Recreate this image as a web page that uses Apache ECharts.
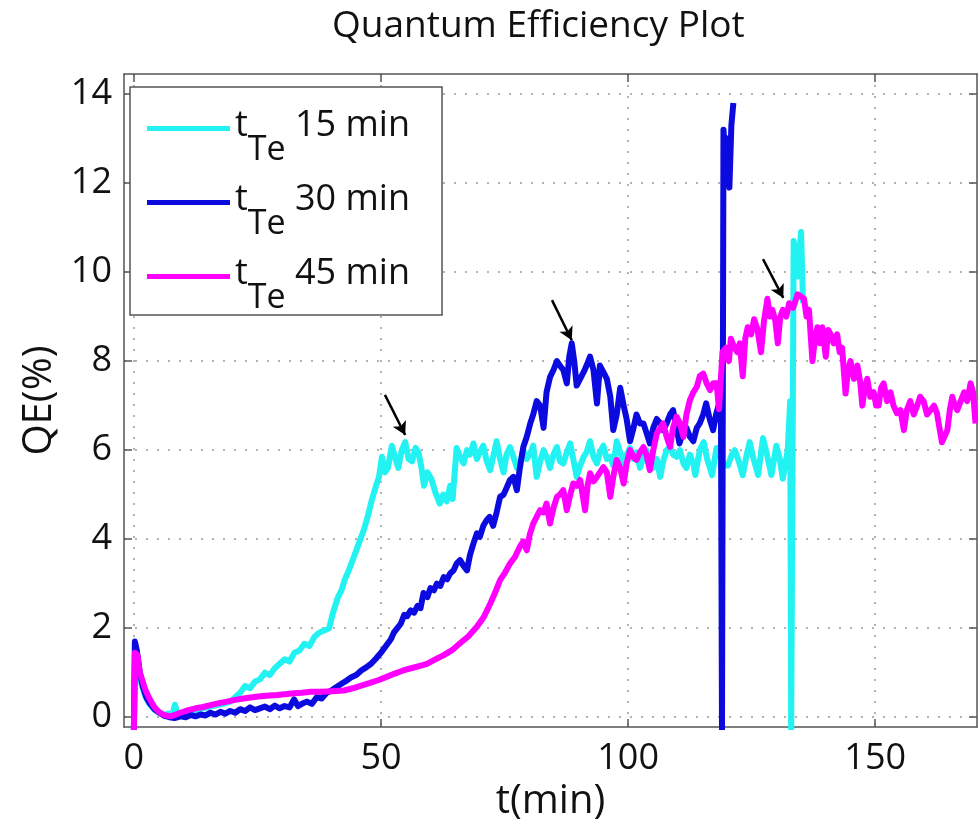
<!DOCTYPE html>
<html>
<head>
<meta charset="utf-8">
<script src="https://cdn.jsdelivr.net/npm/echarts@6/dist/echarts.min.js"></script>
<style>
  html, body { margin: 0; padding: 0; background: #fff; }
  #chart { width: 978px; height: 827px; }
</style>
</head>
<body>
<div id="chart"></div>
<script type="text/javascript">
  // axis ticks
  var xTicks = [0, 50, 100, 150];
  var yTicks = [0, 2, 4, 6, 8, 10, 12, 14];
  var names = ['15 min', '30 min', '45 min'];

  // [t (min), QE (%)]
  var cyanData = [[0,-0.3],[0.3,1.5],[0.8,1.2],[1.5,0.75],[2.2,0.5],[3,0.32],[4,0.18],[5,0.1],[6,0.05],[7,0.08],[7.8,0.05],[8.3,0.28],[8.8,0.08],[10,0.1],[12,0.15],[14,0.2],[16,0.25],[18,0.3],[19.5,0.35],[20.5,0.45],[21.5,0.55],[22.5,0.7],[23.5,0.65],[24.5,0.8],[25.5,0.85],[26.5,1.0],[27.5,0.95],[28.5,1.1],[29.5,1.2],[30.5,1.3],[31.5,1.25],[32.5,1.45],[33.5,1.5],[34.5,1.65],[35.5,1.6],[36.5,1.8],[37.5,1.9],[38.5,1.95],[39.5,2.0],[40.3,2.35],[41.3,2.7],[42,2.85],[42.7,3.1],[43.5,3.3],[44.5,3.6],[45.5,3.9],[46.5,4.2],[47.3,4.5],[48.2,4.9],[49,5.2],[49.6,5.4],[50.2,5.85],[50.8,5.5],[51.4,5.6],[52.2,6.1],[52.8,5.85],[53.5,5.6],[54.2,6.0],[54.9,6.18],[55.6,5.8],[56.3,5.75],[57,6.05],[57.6,5.95],[58.2,5.6],[58.7,5.2],[59.4,5.5],[60.2,5.35],[61,5.05],[61.9,4.8],[62.6,5.0],[63.3,4.85],[64,5.2],[64.5,4.9],[65.3,6.05],[66,5.85],[66.7,5.7],[67.4,6.0],[68,5.9],[68.7,6.15],[69.4,5.8],[70,5.95],[70.7,6.1],[71.4,5.75],[72.1,5.55],[72.8,5.9],[73.4,6.2],[74.1,5.8],[74.8,5.5],[75.4,5.9],[76.1,6.07],[76.8,5.85],[77.5,5.6],[78.1,5.7],[78.8,6.0],[79.5,5.8],[80.2,5.92],[80.8,6.1],[81.5,5.4],[82.2,5.75],[82.9,6.0],[83.5,5.85],[84.2,5.6],[84.9,5.9],[85.6,6.07],[86.2,5.75],[86.9,5.7],[87.6,5.95],[88.3,6.15],[88.9,5.8],[89.6,5.4],[90.3,5.65],[91,5.85],[91.6,5.95],[92.3,6.2],[93,5.85],[93.7,5.7],[94.3,5.95],[95,6.1],[95.7,5.8],[96.4,5.85],[97,5.65],[97.7,6.2],[98.4,5.95],[99.1,5.7],[99.7,5.9],[100.4,6.05],[101.1,5.8],[101.7,5.95],[102.4,5.6],[103.1,5.85],[103.7,6.0],[104.4,5.85],[105.1,5.6],[105.8,5.8],[106.5,5.4],[107.1,5.75],[107.8,6.0],[108.5,6.07],[109.1,5.9],[109.8,5.85],[110.5,6.0],[111.2,5.7],[111.8,5.6],[112.5,5.9],[113.2,5.7],[113.6,5.44],[114.5,6.0],[115.3,6.18],[116,5.8],[117,5.44],[117.9,6.05],[118.6,5.9],[119.3,5.7],[120.2,5.65],[121,5.9],[121.6,6.0],[122.4,5.75],[123.2,5.44],[124,5.9],[124.6,6.18],[125.4,5.8],[126.3,5.44],[127.3,6.27],[128.1,5.9],[129,5.44],[130,6.1],[130.7,5.8],[131.3,5.36],[132.3,6.0],[132.8,7.1],[133.0,-0.3],[133.5,10.7],[134.3,9.9],[135.0,10.9],[135.4,9.3]];

  var blueData = [[0,-0.3],[0.2,1.7],[0.6,1.5],[1.2,1.0],[1.8,0.7],[2.5,0.45],[3.3,0.3],[4.2,0.18],[5.2,0.1],[6.2,0.03],[7.2,0.0],[8.2,-0.02],[9.5,0.02],[10.5,0.0],[11.5,0.05],[12.5,0.02],[13.5,0.06],[14.5,0.04],[15.5,0.1],[16.5,0.06],[17.5,0.12],[18.5,0.08],[19.5,0.14],[20.5,0.1],[21.5,0.18],[22.5,0.14],[23.5,0.22],[24.5,0.16],[25.5,0.2],[26.5,0.24],[27.5,0.18],[28.5,0.26],[29.5,0.2],[30.5,0.25],[31.5,0.22],[32.4,0.4],[33.2,0.25],[34,0.3],[35,0.35],[36,0.3],[37,0.45],[38,0.42],[39,0.55],[40,0.6],[41,0.68],[42,0.75],[43,0.82],[44,0.9],[45,0.95],[46,1.05],[47,1.12],[48,1.2],[49,1.32],[50,1.45],[51,1.6],[52,1.75],[52.6,1.9],[53.3,2.0],[54,2.1],[54.7,2.3],[55.3,2.27],[56,2.4],[56.7,2.35],[57.4,2.5],[58,2.45],[58.6,2.79],[59.4,2.7],[60,2.9],[60.7,2.85],[61.3,3.0],[62,2.95],[62.7,3.15],[63.4,3.1],[64,3.23],[64.7,3.3],[65.3,3.45],[66,3.53],[66.7,3.4],[67.4,3.3],[68,3.64],[68.7,3.9],[69.4,4.13],[70,4.05],[70.7,4.3],[71.4,4.43],[72,4.5],[72.7,4.3],[73.4,4.6],[74.1,4.95],[74.8,5.0],[75.4,5.15],[76.1,5.33],[76.8,5.4],[77.5,5.1],[78.1,5.6],[78.8,6.07],[79.5,6.3],[80.2,6.6],[80.8,6.8],[81.5,7.1],[82.2,7.0],[82.9,6.5],[83.5,7.3],[84.2,7.64],[84.9,7.8],[85.6,8.0],[86.2,7.9],[86.9,7.8],[87.6,7.5],[88.1,8.1],[88.6,8.4],[89.1,8.0],[89.6,7.45],[90.3,7.6],[91,7.75],[91.6,7.9],[92.3,8.1],[93,7.8],[93.7,7.05],[94.3,7.9],[95,7.75],[95.7,7.6],[96.4,7.2],[97,6.45],[97.7,6.8],[98.4,7.4],[99.1,7.0],[99.7,6.7],[100.4,6.2],[101.1,6.5],[101.7,6.8],[102.4,6.6],[103.1,6.6],[103.7,6.4],[104.4,6.15],[105.1,6.5],[105.8,6.7],[106.5,6.6],[107.1,6.45],[107.8,6.6],[108.5,6.8],[109.1,6.9],[109.8,6.5],[110.4,6.15],[111.1,6.4],[111.8,6.5],[112.5,6.3],[113.2,6.2],[113.9,6.5],[114.5,6.6],[115.2,6.8],[115.8,7.05],[116.5,6.7],[117.2,6.45],[117.8,6.8],[118.3,7.0],[118.8,6.6],[119.0,-0.3],[119.3,13.2],[119.7,12.5],[120.1,13.0],[120.5,11.9],[120.9,13.3],[121.3,13.8]];

  var magentaData = [[0,-0.3],[0.2,1.45],[0.7,1.4],[1.2,1.0],[1.7,0.83],[2.3,0.62],[3,0.45],[4,0.25],[5,0.12],[6.1,0.05],[7.4,0.02],[8.5,0.06],[9.4,0.1],[11,0.16],[12.5,0.2],[14,0.23],[15.5,0.27],[17,0.31],[18.8,0.35],[20.5,0.39],[22.2,0.42],[24,0.45],[25.6,0.47],[27.5,0.49],[29,0.5],[31,0.52],[32.4,0.54],[34,0.55],[35.8,0.57],[37.5,0.57],[39.2,0.58],[41,0.59],[42.5,0.6],[44.3,0.65],[46,0.71],[47.8,0.77],[49.4,0.83],[51,0.9],[52.8,0.98],[54.5,1.05],[56.1,1.1],[57.7,1.15],[59.3,1.2],[61,1.3],[62.6,1.39],[64.3,1.5],[66,1.66],[67.7,1.82],[69.4,2.03],[70.8,2.25],[72.1,2.55],[73.1,2.8],[74.1,3.08],[75.1,3.25],[76.1,3.45],[77.1,3.6],[78.1,3.83],[78.8,3.95],[79.5,3.75],[80.1,4.1],[80.8,4.35],[81.5,4.5],[82.2,4.65],[82.9,4.6],[83.5,4.8],[84.2,4.35],[84.9,4.7],[85.6,4.95],[86.2,5.0],[86.9,5.1],[87.6,4.65],[88.3,5.0],[88.9,5.25],[89.6,5.2],[90.3,5.33],[91.3,4.65],[91.8,5.2],[92.3,5.48],[93,5.3],[93.7,5.4],[94.3,5.5],[95,5.62],[95.7,5.5],[96.4,4.95],[97,5.4],[97.7,5.78],[98.4,5.6],[99.1,5.25],[99.7,5.7],[100.4,6.0],[101.1,5.85],[101.7,5.78],[102.4,5.95],[103.1,6.07],[103.7,5.9],[104.4,5.55],[105.1,6.0],[105.8,6.37],[106.5,6.5],[107.1,6.6],[107.8,6.3],[108.5,6.07],[109.1,6.5],[109.8,6.75],[110.5,6.6],[111.2,6.3],[111.8,6.8],[112.5,7.12],[113.2,7.3],[113.9,7.42],[114.5,7.66],[115.2,7.72],[115.9,7.5],[116.6,7.35],[117.2,7.5],[117.9,7.5],[118.4,6.92],[119.1,8.2],[119.8,8.3],[120.4,8.0],[120.8,8.5],[121.5,8.3],[122.1,8.2],[122.6,8.4],[123.2,7.66],[123.7,8.5],[124.2,8.76],[124.9,8.6],[125.5,8.94],[126.2,8.7],[126.9,8.2],[127.5,8.9],[128.2,9.4],[128.7,9.0],[129.2,9.15],[129.8,8.9],[130.3,8.4],[130.8,9.0],[131.3,9.15],[132,9.0],[132.6,9.3],[133.4,9.2],[134.3,9.5],[135,9.45],[135.6,9.4],[136.1,9.0],[136.6,9.15],[137.3,8.0],[137.8,8.5],[138.3,8.76],[138.8,8.4],[139.3,8.76],[140,8.1],[140.5,8.7],[141,8.6],[141.6,8.4],[142.3,8.6],[142.8,8.2],[143.3,8.3],[144,7.27],[144.5,7.8],[145,8.0],[145.7,7.6],[146.4,7.9],[147,7.5],[147.4,7.0],[147.9,7.4],[148.4,7.6],[149,7.2],[149.7,7.3],[150.2,7.0],[150.7,7.0],[151.2,7.4],[151.7,7.5],[152.4,7.1],[153.1,7.3],[153.7,7.0],[154.4,6.83],[155.1,6.9],[155.8,6.45],[156.4,6.9],[157.1,7.1],[157.8,6.8],[158.5,7.0],[159.1,7.2],[159.8,7.1],[160.5,6.8],[161.2,6.9],[161.9,7.0],[162.5,6.83],[163,6.5],[163.5,6.18],[164,6.3],[164.6,6.45],[165.1,6.9],[165.6,7.2],[166.1,7.0],[166.6,6.9],[167.3,7.1],[168,7.3],[168.6,7.1],[169.3,7.5],[169.8,7.3],[170.3,6.6]];

  // arrow annotations: [start, end]
  var arrows = [
    [[50.8, 7.24], [54.9, 6.34]],
    [[84.6, 9.37], [88.6, 8.47]],
    [[127.3, 10.29], [131.4, 9.42]]
  ];

  var font = '"Open Sans", "DejaVu Sans", sans-serif';
  var chart = echarts.init(document.getElementById('chart'));

  function axisBase(extra) {
    var a = {
      type: 'value',
      axisLine: { show: true, onZero: false, lineStyle: { color: '#555', width: 1.5 } },
      axisTick: { show: true, inside: true, length: 8, lineStyle: { color: '#555', width: 1.5 } },
      splitLine: { show: false },
      axisLabel: { show: false }
    };
    for (var k in extra) a[k] = extra[k];
    return a;
  }

  var option = {
    animation: false,
    backgroundColor: '#fff',
    title: {
      text: 'Quantum Efficiency Plot',
      left: 327,
      top: 3,
      textStyle: { fontFamily: font, fontSize: 37, fontWeight: 'normal', color: '#111' }
    },
    legend: {
      data: names,
      orient: 'vertical',
      left: 130,
      top: 87,
      padding: [3, 32, 0, 17],
      icon: 'rect',
      itemWidth: 83,
      itemHeight: 5,
      itemGap: -3,
      itemTextGap: 8,
      backgroundColor: '#fff',
      borderColor: '#555',
      borderWidth: 1.5,
      borderRadius: 0,
      formatter: function (name) {
        return '{t|t}{s|Te}{n| ' + name + '}';
      },
      textStyle: {
        fontFamily: font,
        fontSize: 36,
        color: '#111',
        rich: {
          t: { fontFamily: font, fontSize: 36, lineHeight: 77, verticalAlign: 'top', padding: [18, 0, 0, 0], color: '#111' },
          s: { fontFamily: font, fontSize: 34, lineHeight: 77, verticalAlign: 'bottom', color: '#111' },
          n: { fontFamily: font, fontSize: 36, lineHeight: 77, verticalAlign: 'top', padding: [18, 0, 0, 0], color: '#111' }
        }
      }
    },
    grid: { left: 124, right: 1, top: 74, bottom: 100, containLabel: false },
    xAxis: [
      axisBase({
        position: 'bottom', min: -2, max: 170.6,
        name: 't(min)', nameLocation: 'middle', nameGap: 47,
        nameTextStyle: { fontFamily: font, fontSize: 40, color: '#111' },
        axisTick: { show: true, inside: true, length: 8, customValues: xTicks, lineStyle: { color: '#555', width: 1.5 } },
        axisLabel: { show: true, customValues: xTicks, margin: 14, fontFamily: font, fontSize: 36, color: '#111' },
        splitLine: { show: true, lineStyle: { color: '#999', type: [2, 9], width: 1.5 } }
      }),
      axisBase({
        position: 'top', min: -2, max: 170.6,
        axisTick: { show: true, inside: true, length: 8, customValues: xTicks, lineStyle: { color: '#555', width: 1.5 } }
      })
    ],
    yAxis: [
      axisBase({
        position: 'left', min: -0.22, max: 14.45,
        name: 'QE(%)', nameLocation: 'middle', nameGap: 62, nameRotate: 90,
        nameTextStyle: { fontFamily: font, fontSize: 40, color: '#111' },
        axisTick: { show: true, inside: true, length: 8, customValues: yTicks, lineStyle: { color: '#555', width: 1.5 } },
        axisLabel: { show: true, customValues: yTicks, margin: 12, fontFamily: font, fontSize: 36, color: '#111' },
        splitLine: { show: true, lineStyle: { color: '#999', type: [2, 9], width: 1.5 } }
      }),
      axisBase({
        position: 'right', min: -0.22, max: 14.45,
        axisTick: { show: true, inside: true, length: 8, customValues: yTicks, lineStyle: { color: '#555', width: 1.5 } }
      })
    ],
    series: [
      {
        name: names[0], type: 'line', data: cyanData, showSymbol: false, symbol: 'none',
        color: '#22f2f2', lineStyle: { width: 6, color: '#22f2f2', join: 'round' }, z: 2
      },
      {
        name: names[1], type: 'line', data: blueData, showSymbol: false, symbol: 'none',
        color: '#0b0be0', lineStyle: { width: 6, color: '#0b0be0', join: 'round' }, z: 3
      },
      {
        name: names[2], type: 'line', data: magentaData, showSymbol: false, symbol: 'none',
        color: '#ff00ff', lineStyle: { width: 6, color: '#ff00ff', join: 'round' }, z: 4
      },
      {
        name: 'arrows', type: 'line', data: [], z: 5,
        markLine: {
          silent: true,
          symbol: ['none', 'arrow'],
          symbolSize: [11, 13],
          label: { show: false },
          lineStyle: { color: '#000', width: 2.5, type: 'solid' },
          data: arrows.map(function (a) {
            return [{ coord: a[0] }, { coord: a[1] }];
          })
        }
      }
    ]
  };

  chart.setOption(option);
</script>
</body>
</html>
